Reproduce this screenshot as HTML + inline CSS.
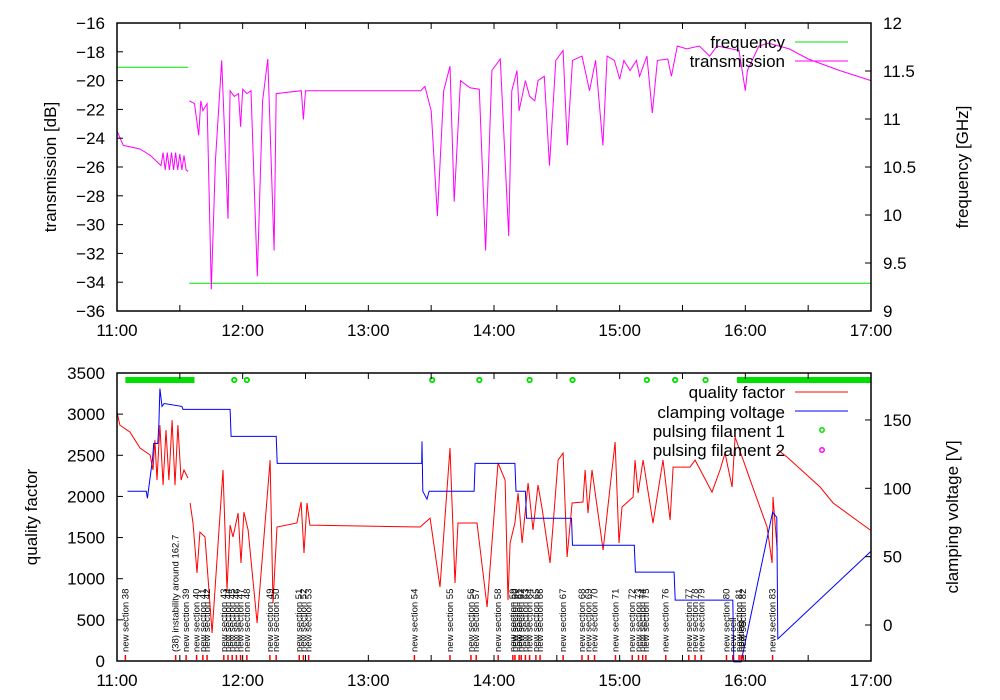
<!DOCTYPE html>
<html><head><meta charset="utf-8"><style>
html,body{margin:0;padding:0;background:#fff}
svg{display:block;font-family:"Liberation Sans",sans-serif}
</style></head><body>
<svg id="c" width="1000" height="700" viewBox="0 0 1000 700"></svg>
<script>
// ---------- data (time in minutes after 11:00; null = gap) ----------
const transT = [0,3,11,16,21,22,23,24,25,26,27,28,29,30,31,32,33,34,null,34.5,37,39,40,41,43,45,47,50,53,54,56,58,59,60,62,64,67,69.5,72,75,76,88,89,90,145,147,150,153,156,159,161,164,168.5,173,176,179,183,187,188.5,191,192,195,197,199.5,201,204,206.5,209.5,213,215,217.5,222,225.6,228.5,232,234,237.5,240,242,245,248,249.5,253,255.6,258,263,264.7,267.5,272,278,283,286.5,297,300,301,306.5,311,321,330,345,360];
const transV = [-23.5,-24.5,-24.75,-25.2,-25.9,-25.0,-26.2,-25.0,-26.2,-25.0,-26.2,-25.0,-26.2,-25.1,-26.2,-25.2,-26.2,-26.3,null,-21.4,-21.6,-23.8,-21.4,-22.1,-21.6,-34.5,-25.6,-18.6,-29.6,-20.7,-21.1,-20.9,-23.2,-20.6,-20.9,-20.7,-33.6,-21.4,-18.5,-31.8,-20.9,-20.7,-22.7,-20.7,-20.7,-20.4,-22.1,-29.4,-20.7,-19.0,-28.4,-20.0,-20.5,-20.6,-31.8,-19.3,-18.5,-30.8,-20.7,-19.3,-22.1,-20.0,-21.1,-21.4,-20.0,-19.7,-25.9,-18.6,-17.9,-24.5,-18.6,-18.3,-20.7,-18.6,-24.5,-18.3,-18.6,-19.9,-18.6,-19.3,-18.6,-19.7,-18.3,-22.25,-18.6,-18.5,-19.7,-17.6,-17.8,-17.6,-18.3,-17.6,-17.9,-20.7,-19.3,-17.6,-17.4,-17.8,-18.5,-19.3,-20.0];
const freqT = [0,34,null,34.5,360];
const freqV = [11.54,11.54,null,9.29,9.29];

const qT = [0,1.4,6.2,11,15.8,17.2,18.1,19.1,20.5,22,23.4,24.8,26.3,27.7,29.1,30.6,32,33.9,null,
  34.9,36.3,38.2,39.6,42,45.4,50.6,52.5,54,55.4,57.8,59.2,60.6,62.6,66.9,73.1,74.5,76.4,85.9,87.9,89.3,90.7,92.1,
  144.7,149.5,154.2,159,161.4,162.8,171.9,176.7,181.9,185.3,186.7,187.7,190,191.5,193.4,196.3,198.6,201,202.9,206.8,
  210.6,213,214.9,217.3,222.5,223.5,224.9,226.8,232.1,237.8,239.7,241.1,246.4,247.3,248.8,251.2,255.9,260.7,264.1,
  265.5,273.6,276,284.1,287.9,290.3,293.7,295.1,302.3,310.4,312.8,313.2,315.2,null,315.6,319.9,335.7,341.9,359.6];
const qV = [3025,2867,2782,2588,2503,2321,2685,2199,2867,2138,2807,2199,2928,2138,2867,2199,2321,2223,null,
  1920,1677,1069,1567,1507,340,2321,863,1652,1507,1798,1191,1810,1592,462,2442,705,1628,1677,1932,1312,1920,1652,
  1628,1737,899,2588,948,1677,1677,656,2406,2199,741,1434,1677,2041,1434,2163,1592,2138,1859,1191,
  2442,2527,1264,1920,1932,2321,1798,2321,1349,2661,1434,1871,1993,2442,2041,2442,1677,2442,1713,
  2357,2357,2442,2053,2321,2527,2114,2722,2199,1628,1191,1993,1349,null,2564,2479,2114,1920,1592];
const vT = [5,14,14.5,17,17.5,19.5,20,20.5,21.5,22.5,31,31.5,54,54.5,76,76.5,145.5,145.6,146,148,149,170.5,171,190,190.5,195,195.5,217,217.5,247,247.5,266,266.5,294,294.5,298,313,315,315.5,360];
const vV = [97.8,97.8,92.7,121.9,132.8,132.8,147.4,173,159.9,162,159.9,157.7,157.7,138,138,118.2,118.2,134.3,97.8,92,97.8,97.8,118.2,118.2,97.8,97.8,78.1,78.1,58.4,58.4,38.7,38.7,18.2,18.2,-27,-27,82.5,78.8,-10.2,54];
const pulse1T = [56,62,150.5,173,197,217.5,253,266.5,281];
const pulseBandStart = [4,296];
const pulseBandEnd = [37,360];
const secT = [4,28,33,38,41,43,51,53,55,57,59,62,73,76,87,89,91.5,142,159,169,171.5,182,189,190,192,193,195,197,200,202,213,222,225,228,238,246,249,251,252.5,262,273,276,279,291,294,297,298,299,313];
const secL = ["new section 38","(38) instability around 162.7","new section 39","new section 40","new section 41","new section 42","new section 43","new section 44","new section 45","new section 46","new section 47","new section 48","new section 49","new section 50","new section 51","new section 52","new section 53","new section 54","new section 55","new section 56","new section 57","new section 58","new section 59","new section 60","new section 61","new section 62","new section 63","new section 64","new section 65","new section 66","new section 67","new section 68","new section 69","new section 70","new section 71","new section 72","new section 73","new section 74","new section 75","new section 76","new section 77","new section 78","new section 79","new section 80","new cell","new section 81","heating","new section 82","new section 83"];
const xTickLabels = ["11:00","12:00","13:00","14:00","15:00","16:00","17:00"];
const dbTicks = [-36,-34,-32,-30,-28,-26,-24,-22,-20,-18,-16];
const ghzTicks = [9,9.5,10,10.5,11,11.5,12];
const qTicks = [0,500,1000,1500,2000,2500,3000,3500];
const vTicks = [0,50,100,150];

// ---------- scales ----------
const L=117,R=871,T1=23,B1=311,T2=373,B2=661;
const x = m => L + m/360*(R-L);
const yDb = v => T1 + (-16 - v)/20*(B1-T1);
const yGhz = v => B1 - (v-9)/3*(B1-T1);
const yQ = v => B2 - v/3500*(B2-T2);
const yV = v => 625 - v*1.367;

const svg=document.getElementById('c');
const NS='http://www.w3.org/2000/svg';
function el(tag,attrs,parent){const e=document.createElementNS(NS,tag);for(const k in attrs)e.setAttribute(k,attrs[k]);(parent||svg).appendChild(e);return e;}
function txt(s,xx,yy,anchor,size,parent,rot){const t=el('text',{x:xx,y:yy,'text-anchor':anchor,'font-size':size,fill:'#000'},parent);if(rot)t.setAttribute('transform',`rotate(-90 ${xx} ${yy})`);t.textContent=s;return t;}
function path(ts,vs,ys,color,g){
  let d='',pen=false;
  ts.forEach((t,i)=>{
    if(t===null||vs[i]===null){pen=false;return;}
    d+=(pen?'L':'M')+x(t).toFixed(1)+','+ys(vs[i]).toFixed(1);pen=true;
  });
  return el('path',{d:d,fill:'none',stroke:color,'stroke-width':1},g);
}

// ---------- top panel ----------
const gTop=el('g',{});


const fq=path(freqT,freqV,yGhz,'#00e000',gTop);


const tr=path(transT,transV,yDb,'#ff00ff',gTop);


dbTicks.forEach(v=>{el('line',{x1:L,x2:L+6,y1:yDb(v),y2:yDb(v),stroke:'#000'},gTop);txt(String(v).replace('-','\u2212'),105,yDb(v)+6,'end',17,gTop);});
ghzTicks.forEach(v=>{el('line',{x1:R-6,x2:R,y1:yGhz(v),y2:yGhz(v),stroke:'#000'},gTop);txt(String(v),883,yGhz(v)+6,'start',17,gTop);});
for(let m=0;m<=360;m+=30){el('line',{x1:x(m),x2:x(m),y1:B1,y2:B1-6,stroke:'#000'},gTop);el('line',{x1:x(m),x2:x(m),y1:T1,y2:T1+6,stroke:'#000'},gTop);}
xTickLabels.forEach((s,i)=>txt(s,x(i*60),336,'middle',17,gTop));
el('rect',{x:L,y:T1,width:R-L,height:B1-T1,fill:'none',stroke:'#000','stroke-width':1.5},gTop);
const ylt=txt('transmission [dB]',56,167,'middle',17,gTop,true);


const yrt=txt('frequency [GHz]',968,167,'middle',17,gTop,true);


const lg1=el('g',{},gTop);


txt('frequency',785,48,'end',17,lg1);el('line',{x1:795,x2:848,y1:42,y2:42,stroke:'#00e000'},lg1);
txt('transmission',785,67,'end',17,lg1);el('line',{x1:795,x2:848,y1:61,y2:61,stroke:'#ff00ff'},lg1);

// ---------- bottom panel ----------
const gB=el('g',{});


const qf=path(qT,qV,yQ,'#ff0000',gB);


const cv=path(vT,vV,yV,'#0000ff',gB);


pulseBandStart.forEach((s,i)=>{
  const b=el('line',{x1:x(s),x2:x(pulseBandEnd[i]),y1:380,y2:380,stroke:'#00e000','stroke-width':6},gB);
  
  
});
pulse1T.forEach(t=>{
  const c=el('circle',{cx:x(t),cy:380,r:2.2,fill:'none',stroke:'#00e000','stroke-width':1.8},gB);
  
  
});
secT.forEach((t,i)=>{
  el('line',{x1:x(t),x2:x(t),y1:655,y2:660,stroke:'#ff0000','stroke-width':1.5},gB);
  const s=txt(secL[i],x(t)+3,652,'start',9.5,gB,true);
  
  
});
qTicks.forEach(v=>{el('line',{x1:L,x2:L+6,y1:yQ(v),y2:yQ(v),stroke:'#000'},gB);txt(String(v),105,yQ(v)+6,'end',17,gB);});
vTicks.forEach(v=>{el('line',{x1:R-6,x2:R,y1:yV(v),y2:yV(v),stroke:'#000'},gB);txt(String(v),883,yV(v)+6,'start',17,gB);});
for(let m=0;m<=360;m+=30){el('line',{x1:x(m),x2:x(m),y1:B2,y2:B2-6,stroke:'#000'},gB);el('line',{x1:x(m),x2:x(m),y1:T2,y2:T2+6,stroke:'#000'},gB);}
xTickLabels.forEach((s,i)=>txt(s,x(i*60),686,'middle',17,gB));
el('rect',{x:L,y:T2,width:R-L,height:B2-T2,fill:'none',stroke:'#000','stroke-width':1.5},gB);
const ylb=txt('quality factor',37,517,'middle',17,gB,true);


const yrb=txt('clamping voltage [V]',958,517,'middle',17,gB,true);


const lg2=el('g',{},gB);


txt('quality factor',785,398,'end',17,lg2);el('line',{x1:795,x2:848,y1:392,y2:392,stroke:'#ff0000'},lg2);
txt('clamping voltage',785,418,'end',17,lg2);el('line',{x1:795,x2:848,y1:411,y2:411,stroke:'#0000ff'},lg2);
txt('pulsing filament 1',785,437,'end',17,lg2);el('circle',{cx:822,cy:430,r:2.2,fill:'none',stroke:'#00e000','stroke-width':1.5},lg2);
txt('pulsing filament 2',785,456,'end',17,lg2);el('circle',{cx:822,cy:450,r:2.2,fill:'none',stroke:'#ff00ff','stroke-width':1.5},lg2);
</script>
</body></html>
